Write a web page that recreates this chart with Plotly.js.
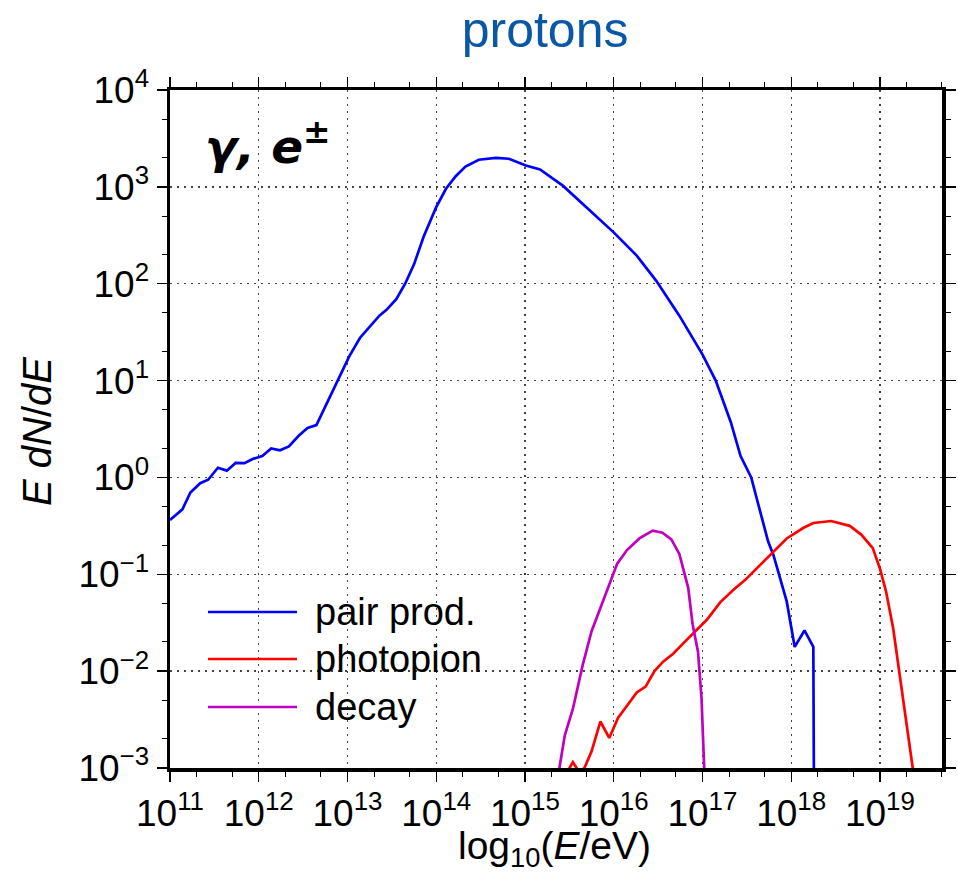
<!DOCTYPE html>
<html>
<head>
<meta charset="utf-8">
<script src="https://cdn.plot.ly/plotly-3.0.1.min.js"></script>
<style>html,body{margin:0;padding:0;background:#fff;}#chart{width:958px;height:874px;}</style>
</head>
<body>
<div id="chart"></div>
<script>
// Values (log10 E in eV, log10 of E dN/dE)
const pairLogE = [11.00, 11.14, 11.23, 11.34, 11.43, 11.54, 11.64, 11.74, 11.84, 11.93, 12.04, 12.14, 12.24, 12.34, 12.45, 12.55, 12.65, 12.76, 12.87, 13.02, 13.14, 13.36, 13.44, 13.55, 13.65, 13.75, 13.86, 14.00, 14.11, 14.22, 14.33, 14.48, 14.67, 14.82, 15.01, 15.17, 15.43, 15.69, 16.00, 16.26, 16.48, 16.74, 17.00, 17.15, 17.32, 17.43, 17.55, 17.61, 17.74, 17.80, 17.95, 18.04, 18.15, 18.25, 18.27];
const pairLogY = [-0.44, -0.33, -0.155, -0.06, -0.024, 0.10, 0.07, 0.15, 0.148, 0.19, 0.22, 0.30, 0.28, 0.32, 0.43, 0.51, 0.54, 0.75, 0.96, 1.25, 1.44, 1.67, 1.73, 1.84, 2.00, 2.20, 2.49, 2.79, 2.98, 3.11, 3.21, 3.28, 3.30, 3.29, 3.22, 3.18, 3.01, 2.79, 2.53, 2.29, 2.03, 1.67, 1.27, 1.00, 0.57, 0.22, 0.00, -0.21, -0.66, -0.80, -1.28, -1.75, -1.58, -1.75, -6.0];

const pionLogE = [15.44, 15.54, 15.61, 15.67, 15.75, 15.85, 15.95, 16.05, 16.14, 16.26, 16.36, 16.46, 16.56, 16.67, 16.82, 16.93, 17.05, 17.20, 17.35, 17.48, 17.63, 17.80, 17.95, 18.14, 18.25, 18.45, 18.66, 18.79, 18.92, 19.00, 19.07, 19.15, 19.21, 19.26, 19.32, 19.37, 19.40];
const pionLogY = [-3.10, -2.94, -3.04, -3.00, -2.83, -2.52, -2.69, -2.48, -2.37, -2.22, -2.16, -2.00, -1.90, -1.82, -1.68, -1.58, -1.47, -1.29, -1.16, -1.06, -0.92, -0.77, -0.63, -0.52, -0.47, -0.45, -0.50, -0.59, -0.73, -0.94, -1.18, -1.56, -1.94, -2.28, -2.63, -3.00, -3.30];

const decayLogE = [15.37, 15.45, 15.54, 15.65, 15.75, 15.86, 16.04, 16.15, 16.29, 16.44, 16.55, 16.65, 16.74, 16.84, 16.89, 16.95, 16.99, 17.02, 17.03];
const decayLogY = [-3.10, -2.66, -2.39, -1.94, -1.59, -1.32, -0.89, -0.75, -0.63, -0.55, -0.57, -0.64, -0.79, -1.14, -1.52, -1.80, -2.28, -3.00, -3.30];

const seriesNames = ['pair prod.', 'photopion', 'decay'];
const seriesColors = ['#0000ff', '#ff0000', '#bf00bf'];
const xTickVals = [1e11, 1e12, 1e13, 1e14, 1e15, 1e16, 1e17, 1e18, 1e19];
const xTickText = ['10<sup>11</sup>', '10<sup>12</sup>', '10<sup>13</sup>', '10<sup>14</sup>', '10<sup>15</sup>', '10<sup>16</sup>', '10<sup>17</sup>', '10<sup>18</sup>', '10<sup>19</sup>'];
const yTickVals = [1e-3, 1e-2, 1e-1, 1e0, 1e1, 1e2, 1e3, 1e4];
const yTickText = ['10<sup>\u22123</sup>', '10<sup>\u22122</sup>', '10<sup>\u22121</sup>', '10<sup>0</sup>', '10<sup>1</sup>', '10<sup>2</sup>', '10<sup>3</sup>', '10<sup>4</sup>'];

const toLin = a => a.map(v => Math.pow(10, v));

const FONT = "'Liberation Sans', Arial, sans-serif";
const seriesX = [pairLogE, pionLogE, decayLogE];
const seriesY = [pairLogY, pionLogY, decayLogY];

const traces = seriesNames.map((n, i) => ({
  x: toLin(seriesX[i]), y: toLin(seriesY[i]), name: n, type: 'scatter', mode: 'lines',
  line: {color: seriesColors[i], width: 2.7}, showlegend: false, cliponaxis: true
}));

const axisCommon = {
  type: 'log', showline: true, linewidth: 3.5, linecolor: '#000', mirror: 'allticks',
  ticks: 'outside', ticklen: 10, tickwidth: 1.3, tickcolor: '#000',
  showgrid: true, gridcolor: '#444', gridwidth: 1.3, griddash: '1.5px,5.5px',
  zeroline: false, tickmode: 'array',
  tickfont: {family: FONT, size: 37, color: '#000'},
  minor: {ticks: 'outside', ticklen: 5, tickwidth: 1, tickcolor: '#000', showgrid: false}
};

const px0 = 170, px1 = 942, py0 = 90, py1 = 768;
const fx = p => (p - px0) / (px1 - px0);
const fy = p => 1 - (p - py0) / (py1 - py0);

const legendRows = [612, 659, 707];
const shapes = seriesNames.map((n, i) => ({
  type: 'line', xref: 'paper', yref: 'paper', x0: fx(208), x1: fx(297), y0: fy(legendRows[i]), y1: fy(legendRows[i]),
  line: {color: seriesColors[i], width: 2.7}
}));
const annotations = seriesNames.map((n, i) => ({
  text: n, xref: 'paper', yref: 'paper', x: fx(313), y: fy(legendRows[i]), xanchor: 'left', yanchor: 'middle',
  showarrow: false, font: {family: FONT, size: 38, color: '#000'}
}));
annotations.push({
  text: '<b><i>γ, e<sup>±</sup></i></b>', xref: 'paper', yref: 'paper', x: fx(203), y: fy(143),
  xanchor: 'left', yanchor: 'middle', showarrow: false, font: {family: "'DejaVu Sans', sans-serif", size: 47, color: '#000'}
});
annotations.push({
  text: 'log<sub>10</sub>(<i>E</i>/eV)', xref: 'paper', yref: 'paper', x: fx(554), y: fy(848),
  xanchor: 'center', yanchor: 'middle', showarrow: false, font: {family: FONT, size: 39, color: '#000'}
});
annotations.push({
  text: '<i>E dN</i>/<i>dE</i>', xref: 'paper', yref: 'paper', x: fx(37), y: fy(431), textangle: -90,
  xanchor: 'center', yanchor: 'middle', showarrow: false, font: {family: FONT, size: 40, color: '#000'}
});

const layout = {
  width: 958, height: 874,
  margin: {l: px0, r: 958 - px1, t: py0, b: 874 - py1, pad: 0},
  paper_bgcolor: '#fff', plot_bgcolor: '#fff',
  title: {text: 'protons', x: 0.569, xanchor: 'center', xref: 'container', y: 0.966, yanchor: 'middle', yref: 'container',
          font: {family: FONT, size: 50, color: '#0a58a5'}},
  xaxis: Object.assign({}, axisCommon, {range: [11, 19.7], tickvals: xTickVals, ticktext: xTickText}),
  yaxis: Object.assign({}, axisCommon, {range: [-3, 4], tickvals: yTickVals, ticktext: yTickText}),
  shapes: shapes, annotations: annotations, showlegend: false
};

Plotly.newPlot('chart', traces, layout, {staticPlot: true, displayModeBar: false});
</script>
</body>
</html>
